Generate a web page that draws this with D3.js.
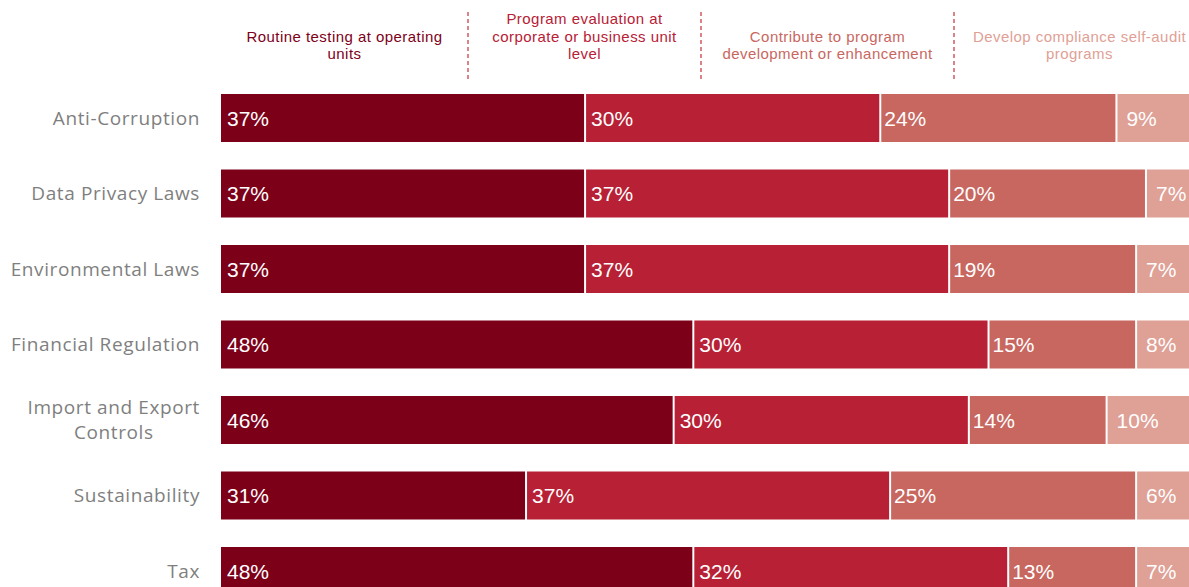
<!DOCTYPE html>
<html>
<head>
<meta charset="utf-8">
<script src="https://cdn.jsdelivr.net/npm/d3@7/dist/d3.min.js"></script>
<style>
  html, body { margin: 0; padding: 0; background: #fff; overflow: hidden; }
  svg { display: block; }
</style>
</head>
<body>
<svg id="chart" width="1189" height="587"></svg>
<script>
// Compliance testing activities by area (share of respondents, %)
const categories = [
  "Anti-Corruption",
  "Data Privacy Laws",
  "Environmental Laws",
  "Financial Regulation",
  "Import and Export Controls",
  "Sustainability",
  "Tax"
];
const seriesNames = [
  "Routine testing at operating units",
  "Program evaluation at corporate or business unit level",
  "Contribute to program development or enhancement",
  "Develop compliance self-audit programs"
];
const routineTesting   = [37, 37, 37, 48, 46, 31, 48];
const programEval      = [30, 37, 37, 30, 30, 37, 32];
const contribute       = [24, 20, 19, 15, 14, 25, 13];
const selfAudit        = [9, 7, 7, 8, 10, 6, 7];
const seriesColors = ["#7d0019", "#b82035", "#c8675f", "#dfa095"];

// Header lines for each column title, as printed
const headerLines = [
  ["Routine testing at operating", "units"],
  ["Program evaluation at", "corporate or business unit", "level"],
  ["Contribute to program", "development or enhancement"],
  ["Develop compliance self-audit", "programs"]
];
// Row labels that break onto two lines
const labelLines = {
  "Import and Export Controls": ["Import and Export", "Controls"]
};

const seriesValues = [routineTesting, programEval, contribute, selfAudit];
const rows = categories.map((c, i) => {
  let acc = 0;
  const segs = seriesValues.map((vals, s) => {
    const seg = { series: s, value: vals[i], x0: acc, x1: acc + vals[i] };
    acc += vals[i];
    return seg;
  });
  return { category: c, segs };
});

const svg = d3.select("#chart");

const x = d3.scaleLinear().domain([0, 100]).range([221, 1205]);
const y = d3.scaleBand()
  .domain(categories)
  .range([94, 94 + 6 * 75.5 + 48])
  .paddingInner(27.5 / 75.5)
  .paddingOuter(0);

// Stacked bars
const rowG = svg.append("g").selectAll("g.row")
  .data(rows).join("g")
  .attr("class", "row")
  .attr("transform", d => `translate(0,${y(d.category)})`);

rowG.selectAll("rect")
  .data(d => d.segs).join("rect")
  .attr("x", d => x(d.x0) + (d.series === 0 ? 0 : 1))
  .attr("y", 0)
  .attr("width", d => x(d.x1) - x(d.x0) - (d.series === 0 ? 1 : 2))
  .attr("height", y.bandwidth())
  .attr("fill", d => seriesColors[d.series]);

const labelPad = [6, 6, 4, 10];
rowG.selectAll("text.val")
  .data(d => d.segs).join("text")
  .attr("class", "val")
  .attr("x", d => x(d.x0) + labelPad[d.series])
  .attr("y", y.bandwidth() / 2)
  .attr("dy", "0.36em")
  .attr("fill", "#fff")
  .style("font-family", "'Liberation Sans', Arial, sans-serif")
  .style("font-size", "21px")
  .text(d => d.value + "%");

// Category labels (multi-line labels are centred within a right-aligned block)
const catG = svg.append("g")
  .style("font-family", "'Open Sans', 'Noto Sans', sans-serif")
  .style("font-size", "19px")
  .style("letter-spacing", "0.6px")
  .attr("fill", "#7f7f7f");

categories.forEach(c => {
  const lines = labelLines[c] || [c];
  const cy = y(c) + y.bandwidth() / 2;
  const lh = 25;
  if (lines.length === 1) {
    catG.append("text")
      .attr("x", 200).attr("y", cy).attr("dy", "0.35em")
      .attr("text-anchor", "end").text(c);
  } else {
    const t = catG.append("text").attr("text-anchor", "middle");
    const spans = lines.map((l, k) => t.append("tspan")
      .attr("y", cy + (k - (lines.length - 1) / 2) * lh)
      .attr("dy", "0.35em").text(l));
    const maxW = d3.max(spans, s => s.node().getComputedTextLength());
    spans.forEach(s => s.attr("x", 200 - maxW / 2));
  }
});

// Column headers with dashed separators
const colEdges = [221, 468, 701, 954, 1205];
const headG = svg.append("g")
  .style("font-family", "'Liberation Sans', Arial, sans-serif")
  .style("font-size", "15px")
  .style("letter-spacing", "0.45px");
headerLines.forEach((lines, s) => {
  const cx = (colEdges[s] + colEdges[s + 1]) / 2;
  const lastY = 54;
  headG.append("g").selectAll("text")
    .data(lines).join("text")
    .attr("x", cx)
    .attr("y", (d, k) => lastY - (lines.length - 1 - k) * 17.5)
    .attr("dy", "0.35em")
    .attr("text-anchor", "middle")
    .attr("fill", seriesColors[s])
    .text(d => d);
});
svg.append("g").selectAll("line")
  .data(colEdges.slice(1, 4)).join("line")
  .attr("x1", d => d).attr("x2", d => d)
  .attr("y1", 12).attr("y2", 80)
  .attr("stroke", "#cf5b5f")
  .attr("stroke-width", 1.5)
  .attr("stroke-dasharray", "4,3");
</script>
</body>
</html>
